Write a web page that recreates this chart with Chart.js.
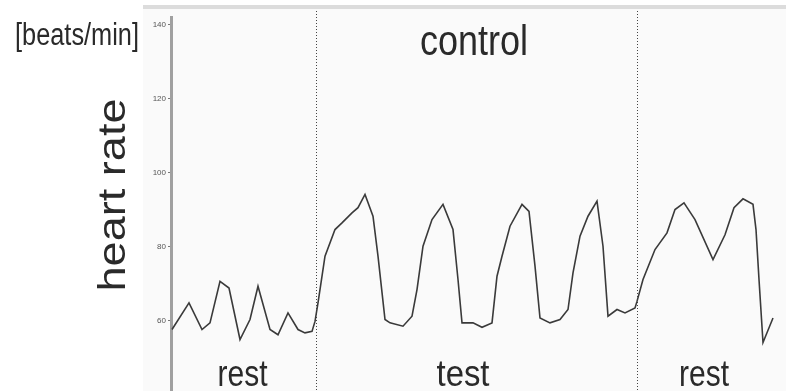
<!DOCTYPE html>
<html>
<head>
<meta charset="utf-8">
<script src="https://cdn.jsdelivr.net/npm/chart.js@4/dist/chart.umd.min.js"></script>
<style>
  html, body { margin: 0; padding: 0; background: #fff; }
  canvas { display: block; }
</style>
</head>
<body>
<canvas id="hrChart" width="786" height="391"></canvas>
<script>
// time (arbitrary units) and heart rate [beats/min]
const times = [0.1, 1.8, 3.1, 3.9, 4.9, 5.8, 6.9, 7.9, 8.7, 9.9, 10.7, 11.7, 12.7, 13.4, 14.1, 14.4,
  14.7, 15.4, 16.4, 17.1, 18.1, 18.7, 19.4, 20.2, 20.7, 21.4, 21.9, 23.2, 24.1, 24.6, 25.2, 26.1,
  27.2, 28.2, 28.7, 29.1, 30.2, 31.1, 32.1, 32.6, 33.1, 33.9, 35.1, 35.8, 36.4, 36.9, 37.9, 38.9,
  39.7, 40.2, 40.9, 41.7, 42.6, 43.2, 43.7, 44.6, 45.4, 46.4, 46.6, 47.2, 48.4, 49.6, 50.4, 51.3,
  52.4, 54.2, 55.4, 56.3, 57.2, 58.2, 58.5, 58.8, 59.2, 60.2];
const heartRate = [57.6, 64.8, 57.6, 59.4, 70.6, 68.8, 54.9, 60.3, 69.3, 57.6, 56.2, 62.1, 57.6, 56.7, 57.1, 59.8,
  64.8, 77.4, 84.6, 86.4, 89.1, 90.5, 94.1, 88.2, 77.4, 60.3, 59.4, 58.5, 61.2, 68.4, 80.1, 87.3,
  91.4, 84.6, 71.1, 59.4, 59.4, 58.2, 59.4, 72.0, 77.4, 85.5, 91.4, 89.5, 74.7, 60.7, 59.4, 60.3,
  63.0, 72.9, 82.8, 88.2, 92.3, 80.1, 61.2, 63.0, 62.1, 63.4, 65.2, 71.1, 79.2, 83.7, 90.0, 91.8,
  87.3, 76.5, 83.2, 90.5, 92.9, 91.4, 84.6, 71.1, 54.1, 60.7];
const yTicks = [60, 80, 100, 120, 140];
const phaseBounds = [14.5, 46.6];
const phaseLabels = ['rest', 'test', 'rest'];
const phaseCenters = [7.15, 29.2, 53.3];

const FONT = '"Liberation Sans", Arial, sans-serif';

// draw text squeezed/stretched to a target width
function fitText(ctx, text, x, y, size, width, align) {
  ctx.save();
  ctx.font = size + 'px ' + FONT;
  const w = ctx.measureText(text).width;
  const sx = width / w;
  ctx.translate(x, y);
  ctx.scale(sx, 1);
  ctx.textAlign = align || 'left';
  ctx.textBaseline = 'alphabetic';
  ctx.fillText(text, 0, 0);
  ctx.restore();
}

const decor = {
  id: 'decor',
  beforeDraw(chart) {
    const { ctx, width, height } = chart;
    ctx.save();
    ctx.fillStyle = '#ffffff';
    ctx.fillRect(0, 0, width, height);
    ctx.fillStyle = '#fafafa';
    ctx.fillRect(143, 9, width - 143, height - 9);
    ctx.fillStyle = '#dcdcdc';
    ctx.fillRect(143, 5, width - 143, 4);
    ctx.restore();
  },
  beforeDatasetsDraw(chart) {
    const { ctx, scales: { x } } = chart;
    ctx.save();
    ctx.strokeStyle = '#444';
    ctx.lineWidth = 1;
    ctx.setLineDash([1, 2]);
    phaseBounds.forEach(t => {
      const px = Math.round(x.getPixelForValue(t)) + 0.5;
      ctx.beginPath();
      ctx.moveTo(px, 11);
      ctx.lineTo(px, chart.height);
      ctx.stroke();
    });
    ctx.restore();
  },
  afterDraw(chart) {
    const { ctx, scales: { x } } = chart;
    ctx.save();
    ctx.fillStyle = '#2a2a2a';
    fitText(ctx, '[beats/min]', 15, 45, 31, 124, 'left');
    fitText(ctx, 'control', 474, 55, 42, 108, 'center');
    phaseLabels.forEach((lbl, i) => {
      const cx = x.getPixelForValue(phaseCenters[i]);
      fitText(ctx, lbl, cx, 386, 37, lbl === 'test' ? 53 : 50, 'center');
    });
    // vertical axis title
    ctx.translate(125, 195);
    ctx.rotate(-Math.PI / 2);
    fitText(ctx, 'heart rate', 0, 0, 38, 193, 'center');
    ctx.restore();
  }
};

new Chart(document.getElementById('hrChart'), {
  type: 'line',
  data: {
    datasets: [{
      data: times.map((t, i) => ({ x: t, y: heartRate[i] })),
      borderColor: '#3a3a3a',
      borderWidth: 1.6,
      pointRadius: 0,
      tension: 0,
      fill: false,
    }]
  },
  options: {
    responsive: false,
    animation: false,
    devicePixelRatio: 1,
    layout: { padding: { left: 0, right: 0, top: 17, bottom: 0 } },
    plugins: { legend: { display: false }, tooltip: { enabled: false } },
    scales: {
      x: { type: 'linear', display: false, min: 0, max: 61.5 },
      y: {
        min: 41,
        max: 142,
        afterFit: s => { s.width = 171; s.paddingTop = 0; s.paddingBottom = 0; },
        afterBuildTicks: s => { s.ticks = yTicks.map(v => ({ value: v })); },
        ticks: { font: { size: 8, family: FONT }, color: '#555', padding: 2 },
        grid: { drawOnChartArea: false, tickLength: 3, color: '#777' },
        border: { color: '#a0a0a0', width: 3 }
      }
    }
  },
  plugins: [decor]
});
</script>
</body>
</html>
